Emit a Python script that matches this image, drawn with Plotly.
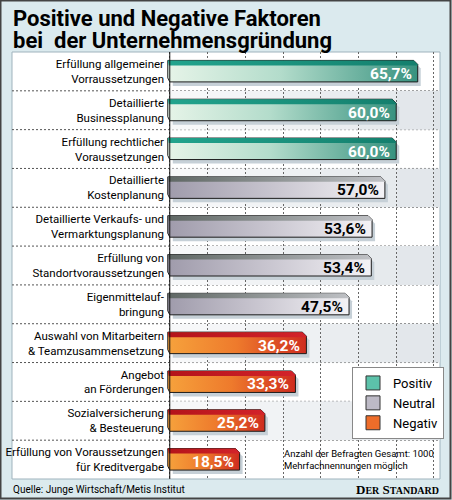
import plotly.graph_objects as go

# ---------------- data ----------------
categories = [
    "Erfüllung allgemeiner<br>Vorraussetzungen",
    "Detaillierte<br>Businessplanung",
    "Erfüllung rechtlicher<br>Voraussetzungen",
    "Detaillierte<br>Kostenplanung",
    "Detaillierte Verkaufs- und<br>Vermarktungsplanung",
    "Erfüllung von<br>Standortvoraussetzungen",
    "Eigenmittelauf-<br>bringung",
    "Auswahl von Mitarbeitern<br>& Teamzusammensetzung",
    "Angebot<br>an Förderungen",
    "Sozialversicherung<br>& Besteuerung",
    "Erfüllung von Voraussetzungen<br>für Kreditvergabe",
]
values = [65.7, 60.0, 60.0, 57.0, 53.6, 53.4, 47.5, 36.2, 33.3, 25.2, 18.5]
groups = ["Positiv", "Positiv", "Positiv",
          "Neutral", "Neutral", "Neutral", "Neutral",
          "Negativ", "Negativ", "Negativ", "Negativ"]
legend_names = ["Positiv", "Neutral", "Negativ"]

# ---------------- styles ----------------
FONT = "Roboto, Liberation Sans, DejaVu Sans, sans-serif"
STYLE = {
    "Positiv": dict(body=[[0, "#e6f4e8"], [0.45, "#b3dccb"], [1, "#37927f"]],
                    band=[[0, "#22a48d"], [1, "#147f6d"]],
                    text="white", legend="#5cc2aa"),
    "Neutral": dict(body=[[0, "#9f9bab"], [0.5, "#c9c6d0"], [1, "#f4f3f6"]],
                    band=[[0, "#5f6764"], [1, "#bfc1c5"]],
                    text="black", legend="#bdbac6"),
    "Negativ": dict(body=[[0, "#f6a23c"], [0.5, "#ee7a2c"], [1, "#cf2c1f"]],
                    band=[[0, "#b3131a"], [1, "#d3232a"]],
                    text="white", legend="#ee6d2a"),
}

W, H = 452, 500
ML, MR, MT, MB = 166, 12, 52, 21
PW, PH = W - ML - MR, H - MT - MB
XMIN, XMAX = -1, 71.6
N = len(categories)
PXU = PW / (XMAX - XMIN)   # px per x unit
ROW = PH / N               # px per row


def dx(p):
    return p / PXU


def dy(p):
    return p / ROW


def px_x(X):
    return (X - ML) / PW


def px_y(Y):
    return (H - MB - Y) / PH


fig = go.Figure()

shapes = []
# white panel box
shapes.append(dict(type="rect", xref="paper", yref="paper",
                   x0=px_x(12), x1=px_x(440), y0=px_y(479), y1=px_y(52),
                   fillcolor="white", line=dict(color="#9fb3bd", width=1), layer="below"))
# shaded alternate rows (checker-like columns)
shade_cols = ["#f7f8f9", "#f5f6f8", "#f1f3f5", "#eef1f3", "#eaedf0", "#e6eaed", "#e3e7eb", "#dfe4e8"]
for i in range(N):
    if i % 2 == 1:
        for k in range(8):
            shapes.append(dict(type="rect", xref="x", yref="y",
                               x0=10 * k, x1=min(10 * k + 10, XMAX),
                               y0=i - 0.5, y1=i + 0.5,
                               fillcolor=shade_cols[k], line=dict(width=0), layer="below"))
# horizontal dashed separators across whole box
for k in range(1, N):
    yy = 1 - k / N
    shapes.append(dict(type="line", xref="paper", yref="paper",
                       x0=px_x(12), x1=1, y0=yy, y1=yy,
                       line=dict(color="#555", width=1, dash="2px,2px"), layer="below"))
# solid axis line at 0
shapes.append(dict(type="line", xref="x", yref="y", x0=0, x1=0, y0=-0.5, y1=N - 0.5,
                   line=dict(color="#111", width=1), layer="above"))
# outer frame
shapes.append(dict(type="rect", xref="paper", yref="paper",
                   x0=px_x(0.5), x1=px_x(W - 1.5), y0=px_y(H - 1.5), y1=px_y(0.5),
                   line=dict(color="#444", width=2), fillcolor="rgba(0,0,0,0)", layer="above"))

# ---------------- bars ----------------
TOP, BOT, C, BH = -11.0, 10.5, 4.0, 5.0
annotations = []
for i, (v, g) in enumerate(zip(values, groups)):
    st = STYLE[g]
    top, bot = i + dy(TOP), i + dy(BOT)
    # shadow
    sx = [dx(3), v - dx(C) + dx(3), v + dx(3), v + dx(3), dx(3), dx(3)]
    sy = [top + dy(4), top + dy(4), top + dy(C + 4), bot + dy(4), bot + dy(4), top + dy(4)]
    fig.add_trace(go.Scatter(x=sx, y=sy, fill="toself", mode="lines",
                             fillcolor="#c6d0d7", line=dict(width=0),
                             showlegend=False, hoverinfo="skip"))
    # body
    bx = [-dx(2), v - dx(C), v, v, 0, -dx(2), -dx(2)]
    by = [top, top, top + dy(C), bot, bot, bot - dy(4), top]
    fig.add_trace(go.Scatter(x=bx, y=by, fill="toself", mode="lines",
                             fillgradient=dict(type="horizontal", colorscale=st["body"]),
                             line=dict(color="#1c1c1c", width=1),
                             showlegend=False, hoverinfo="skip"))
    # top band
    tx = [-dx(2), v - dx(C), v, v, -dx(1), -dx(2)]
    ty = [top, top, top + dy(C), top + dy(BH), top + dy(BH), top]
    fig.add_trace(go.Scatter(x=tx, y=ty, fill="toself", mode="lines",
                             fillgradient=dict(type="horizontal", colorscale=st["band"]),
                             line=dict(width=0),
                             showlegend=False, hoverinfo="skip"))
    label = f"{v:.1f}".replace(".", ",") + "%"
    annotations.append(dict(x=v - dx(4), y=i + dy(2.5), xref="x", yref="y",
                            text="<b>" + label + "</b>", showarrow=False,
                            xanchor="right", yanchor="middle",
                            font=dict(family=FONT, size=15.5, color=st["text"])))

# legend dummies
for name in legend_names:
    fig.add_trace(go.Scatter(x=[None], y=[None], mode="markers", name=name,
                             marker=dict(symbol="square", size=14, color=STYLE[name]["legend"],
                                         line=dict(color="#333", width=1))))

# ---------------- texts ----------------
annotations += [
    dict(xref="paper", yref="paper", x=px_x(11), y=px_y(4), xanchor="left", yanchor="top",
         text="<b>Positive und Negative Faktoren</b>", showarrow=False,
         font=dict(family=FONT, size=22, color="black")),
    dict(xref="paper", yref="paper", x=px_x(11), y=px_y(26), xanchor="left", yanchor="top",
         text="<b>bei  der Unternehmensgründung</b>", showarrow=False,
         font=dict(family=FONT, size=22, color="black")),
    dict(xref="paper", yref="paper", x=px_x(282), y=px_y(459), xanchor="left", yanchor="middle",
         text="Anzahl der Befragten Gesamt: 1000<br>Mehrfachnennungen möglich", showarrow=False,
         align="left", font=dict(family=FONT, size=9.5, color="black")),
    dict(xref="paper", yref="paper", x=px_x(11), y=px_y(489), xanchor="left", yanchor="middle",
         text="Quelle: Junge Wirtschaft/Metis Institut", showarrow=False,
         font=dict(family=FONT, size=10, color="black")),
    dict(xref="paper", yref="paper", x=px_x(441), y=px_y(489), xanchor="right", yanchor="middle",
         text="<b>D<span style='font-size:10px'>ER</span> S<span style='font-size:10px'>TANDARD</span></b>",
         showarrow=False,
         font=dict(family="Liberation Serif, DejaVu Serif, serif", size=13, color="black")),
]

fig.update_layout(
    width=W, height=H,
    margin=dict(l=ML, r=MR, t=MT, b=MB, autoexpand=False),
    paper_bgcolor="#dbeaee", plot_bgcolor="rgba(0,0,0,0)",
    shapes=shapes, annotations=annotations,
    showlegend=True,
    legend=dict(x=px_x(352), y=px_y(367), xanchor="left", yanchor="top",
                bgcolor="white", bordercolor="#888", borderwidth=1,
                font=dict(family=FONT, size=13, color="black"),
                itemsizing="trace", traceorder="normal"),
    xaxis=dict(range=[XMIN, XMAX], tick0=0, dtick=10, showgrid=True,
               gridcolor="#666", griddash="2px,2px", gridwidth=1, automargin=False,
               showticklabels=False, zeroline=False, showline=False, fixedrange=True),
    yaxis=dict(range=[N - 0.5, -0.5], tickvals=list(range(N)), ticktext=categories,
               showgrid=False, zeroline=False, showline=False, ticks="", automargin=False,
               ticklabelstandoff=1,
               tickfont=dict(family=FONT, size=11.5, color="black"), fixedrange=True),
    hovermode=False,
)

fig.write_html("out.html", config={"displayModeBar": False},
               post_script="document.body.style.margin='0';document.body.style.overflow='hidden';")
